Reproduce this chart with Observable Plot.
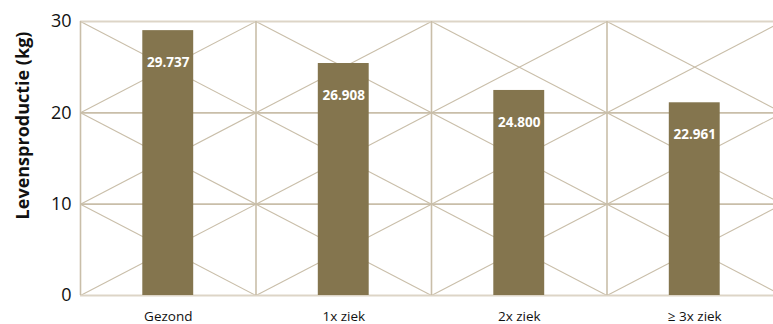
<!DOCTYPE html>
<html>
<head>
<meta charset="utf-8">
<script src="https://cdn.jsdelivr.net/npm/d3@7"></script>
<script src="https://cdn.jsdelivr.net/npm/@observablehq/plot@0.6"></script>
<style>
  html, body { margin: 0; padding: 0; background: #fff; overflow: hidden; }
  #chart { width: 773px; height: 324px; }
</style>
</head>
<body>
<div id="chart"></div>
<script>
const categories = ["Gezond", "1x ziek", "2x ziek", "≥ 3x ziek"];
const barValues = [29.0, 25.4, 22.45, 21.1];
const barLabels = ["29.737", "26.908", "24.800", "22.961"];
const yTicks = [0, 10, 20, 30];
const yLabel = "Levensproductie (kg)";

const data = categories.map((c, i) => ({i, category: c, value: barValues[i], label: barLabels[i]}));
const cols = d3.range(categories.length + 1);
const cells = [];
for (let i = 0; i < categories.length; i++) {
  for (let j = 0; j < yTicks.length - 1; j++) {
    cells.push({x1: i, x2: i + 1, y1: yTicks[j], y2: yTicks[j + 1]});
    cells.push({x1: i, x2: i + 1, y1: yTicks[j + 1], y2: yTicks[j]});
  }
}
const half = 0.145;
const gridColor = "#c9bea9";
const font = "'Open Sans', sans-serif";

const chart = Plot.plot({
  width: 773,
  height: 324,
  marginLeft: 80,
  marginRight: -9,
  marginTop: 21,
  marginBottom: 29,
  style: {fontFamily: font, background: "#fff"},
  x: {domain: [0, categories.length], axis: null},
  y: {domain: [0, 30], axis: null},
  marks: [
    Plot.link(cells, {x1: "x1", y1: "y1", x2: "x2", y2: "y2", stroke: gridColor, strokeWidth: 1.1}),
    Plot.ruleY(yTicks.slice(1, -1), {stroke: gridColor, strokeWidth: 1.6}),
    Plot.ruleY([yTicks[0], yTicks[yTicks.length - 1]], {stroke: "#ddd5c7", strokeWidth: 2.2}),
    Plot.ruleX(cols, {stroke: gridColor, strokeWidth: 1.6}),
    Plot.rectY(data, {x1: d => d.i + 0.5 - half, x2: d => d.i + 0.5 + half, y1: 0, y2: "value", fill: "#84754e"}),
    Plot.text(data, {x: d => d.i + 0.5, y: "value", text: "label", dy: 32, fill: "#fff", fontWeight: "bold", fontSize: 13.5}),
    Plot.axisY(yTicks, {tickSize: 0, tickPadding: 9, fontSize: 18, color: "#111", label: null}),
    Plot.axisX(categories.map((c, i) => i + 0.5), {tickSize: 0, tickPadding: 16, fontSize: 13.5, color: "#111", label: null, tickFormat: v => categories[Math.floor(v)]}),
    Plot.text([yLabel], {frameAnchor: "left", textAnchor: "middle", rotate: -90, dx: -57, dy: -33, fontSize: 18, fontWeight: "bold", fill: "#111"})
  ]
});
document.getElementById("chart").appendChild(chart);
</script>
</body>
</html>
